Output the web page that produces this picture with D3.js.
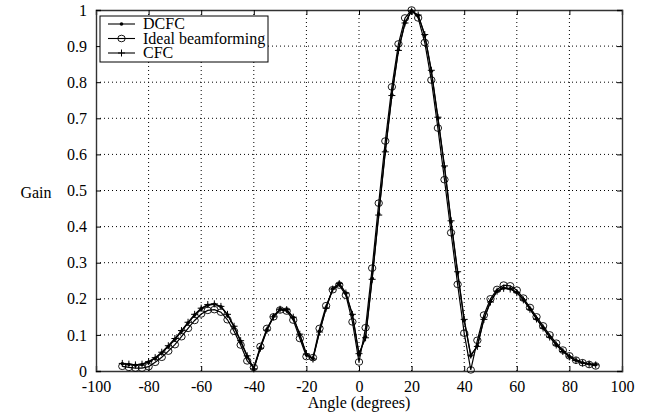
<!DOCTYPE html>
<html>
<head>
<meta charset="utf-8">
<script src="https://cdn.jsdelivr.net/npm/d3@7"></script>
<style>
  body { margin: 0; background: #fff; }
  svg { display: block; font-family: "Liberation Serif", "DejaVu Serif", serif; }
  .grid line { stroke: #000; stroke-width: 1; stroke-dasharray: 1,3; }
  .series { fill: none; stroke: #000; stroke-width: 1.2; }
</style>
</head>
<body>
<svg id="chart" width="656" height="416"></svg>
<script>
// angles sampled every 2.5 degrees, -90 .. 90
var angles = [-90, -87.5, -85, -82.5, -80, -77.5, -75, -72.5, -70, -67.5, -65, -62.5,
  -60, -57.5, -55, -52.5, -50, -47.5, -45, -42.5, -40, -37.5, -35, -32.5,
  -30, -27.5, -25, -22.5, -20, -17.5, -15, -12.5, -10, -7.5, -5, -2.5,
  0, 2.5, 5, 7.5, 10, 12.5, 15, 17.5, 20, 22.5, 25, 27.5,
  30, 32.5, 35, 37.5, 40, 42.5, 45, 47.5, 50, 52.5, 55, 57.5,
  60, 62.5, 65, 67.5, 70, 72.5, 75, 77.5, 80, 82.5, 85, 87.5, 90];

var dcfc = [0.020, 0.018, 0.016, 0.018, 0.025, 0.035, 0.050, 0.068, 0.088, 0.110, 0.133, 0.155,
  0.172, 0.182, 0.185, 0.178, 0.155, 0.122, 0.082, 0.040, 0.005, 0.065, 0.115, 0.152,
  0.172, 0.170, 0.148, 0.100, 0.045, 0.035, 0.110, 0.175, 0.228, 0.243, 0.215, 0.155,
  0.045, 0.095, 0.257, 0.435, 0.610, 0.765, 0.890, 0.965, 0.998, 0.985, 0.930, 0.830,
  0.700, 0.565, 0.413, 0.272, 0.140, 0.042, 0.070, 0.145, 0.193, 0.222, 0.230, 0.228,
  0.218, 0.198, 0.172, 0.145, 0.120, 0.095, 0.073, 0.055, 0.040, 0.030, 0.023, 0.020, 0.018];

var ideal = [0.013, 0.010, 0.008, 0.008, 0.012, 0.024, 0.038, 0.055, 0.073, 0.095, 0.118, 0.140,
  0.158, 0.168, 0.170, 0.163, 0.142, 0.110, 0.072, 0.028, 0.010, 0.068, 0.118, 0.150,
  0.169, 0.166, 0.141, 0.090, 0.040, 0.037, 0.118, 0.181, 0.225, 0.238, 0.210, 0.136,
  0.025, 0.120, 0.285, 0.465, 0.637, 0.787, 0.906, 0.978, 1.000, 0.978, 0.910, 0.806,
  0.673, 0.530, 0.383, 0.240, 0.105, 0.003, 0.085, 0.155, 0.200, 0.226, 0.238, 0.236,
  0.224, 0.202, 0.176, 0.150, 0.125, 0.100, 0.077, 0.058, 0.042, 0.030, 0.023, 0.018, 0.014];

var cfc = [0.021, 0.019, 0.017, 0.019, 0.026, 0.037, 0.052, 0.070, 0.090, 0.112, 0.135, 0.157,
  0.174, 0.184, 0.186, 0.179, 0.157, 0.124, 0.084, 0.042, 0.006, 0.063, 0.113, 0.150,
  0.171, 0.170, 0.149, 0.102, 0.047, 0.033, 0.108, 0.174, 0.227, 0.242, 0.216, 0.157,
  0.048, 0.092, 0.254, 0.432, 0.607, 0.763, 0.888, 0.964, 0.997, 0.986, 0.932, 0.833,
  0.703, 0.568, 0.416, 0.275, 0.143, 0.044, 0.068, 0.143, 0.191, 0.221, 0.229, 0.227,
  0.217, 0.197, 0.171, 0.144, 0.119, 0.094, 0.072, 0.054, 0.039, 0.029, 0.022, 0.019, 0.017];

var xTicks = [-100, -80, -60, -40, -20, 0, 20, 40, 60, 80, 100];
var yTicks = [0, 0.1, 0.2, 0.3, 0.4, 0.5, 0.6, 0.7, 0.8, 0.9, 1];
var legendNames = ["DCFC", "Ideal beamforming", "CFC"];

var margin = {left: 96, right: 34, top: 10, bottom: 45},
    width = 656 - margin.left - margin.right,
    height = 416 - margin.top - margin.bottom;

var svg = d3.select("#chart");
var g = svg.append("g").attr("transform", "translate(" + margin.left + "," + margin.top + ")");

var x = d3.scaleLinear().domain([-100, 100]).range([0, width]);
var y = d3.scaleLinear().domain([0, 1]).range([height, 0]);

// dotted grid
var grid = g.append("g").attr("class", "grid");
grid.selectAll("line.gx").data(xTicks.slice(1, -1)).enter().append("line")
  .attr("x1", function(d) { return x(d); }).attr("x2", function(d) { return x(d); })
  .attr("y1", 0).attr("y2", height);
grid.selectAll("line.gy").data(yTicks.slice(1, -1)).enter().append("line")
  .attr("x1", 0).attr("x2", width)
  .attr("y1", function(d) { return y(d); }).attr("y2", function(d) { return y(d); });

// axes with inward ticks on all four sides
var fmtX = function(d) { return String(d); };  // plain hyphen, like the original
var fmtY = function(d) { return d === 0 ? "0" : d === 1 ? "1" : d3.format(".1f")(d); };
var axB = g.append("g").attr("transform", "translate(0," + height + ")")
  .call(d3.axisBottom(x).tickValues(xTicks).tickSize(-5).tickPadding(10).tickFormat(fmtX));
var axT = g.append("g")
  .call(d3.axisTop(x).tickValues(xTicks).tickSize(-5).tickFormat(""));
var axL = g.append("g")
  .call(d3.axisLeft(y).tickValues(yTicks).tickSize(-5).tickPadding(9).tickFormat(fmtY));
var axR = g.append("g").attr("transform", "translate(" + width + ",0)")
  .call(d3.axisRight(y).tickValues(yTicks).tickSize(-5).tickFormat(""));

[axB, axT, axL, axR].forEach(function(a) {
  a.select(".domain").attr("stroke", "#333").attr("stroke-width", 1.4);
  a.selectAll(".tick line").attr("stroke", "#000");
  a.selectAll("text").attr("font-family", "Liberation Serif").attr("font-size", 16).attr("fill", "#000");
});

var line = d3.line()
  .x(function(d) { return x(d[0]); })
  .y(function(d) { return y(d[1]); });

function pairs(values) {
  return angles.map(function(a, i) { return [a, values[i]]; });
}

var dcfcPts = pairs(dcfc), idealPts = pairs(ideal), cfcPts = pairs(cfc);

g.append("path").datum(idealPts).attr("class", "series").attr("d", line);
g.append("path").datum(cfcPts).attr("class", "series").attr("d", line);
g.append("path").datum(dcfcPts).attr("class", "series").attr("d", line);

function plusPath(cx, cy, s) {
  return "M" + (cx - s) + "," + cy + "H" + (cx + s) + "M" + cx + "," + (cy - s) + "V" + (cy + s);
}

g.selectAll("ellipse.ideal").data(idealPts).enter().append("ellipse")
  .attr("class", "ideal")
  .attr("cx", function(d) { return x(d[0]); })
  .attr("cy", function(d) { return y(d[1]); })
  .attr("rx", 3.7).attr("ry", 3.3)
  .attr("fill", "none").attr("stroke", "#000").attr("stroke-width", 0.9);

g.selectAll("path.cfc").data(cfcPts).enter().append("path")
  .attr("class", "cfc")
  .attr("d", function(d) { return plusPath(x(d[0]), y(d[1]), 3.5); })
  .attr("stroke", "#000").attr("stroke-width", 1);

g.selectAll("circle.dcfc").data(dcfcPts).enter().append("circle")
  .attr("class", "dcfc")
  .attr("cx", function(d) { return x(d[0]); })
  .attr("cy", function(d) { return y(d[1]); })
  .attr("r", 1.8).attr("fill", "#000");

// legend
var leg = g.append("g").attr("transform", "translate(4,6)");
leg.append("rect").attr("width", 168).attr("height", 46)
  .attr("fill", "#fff").attr("stroke", "#000").attr("stroke-width", 1);
legendNames.forEach(function(name, i) {
  var ly = 8 + i * 14.5;
  leg.append("line").attr("x1", 8).attr("x2", 35).attr("y1", ly).attr("y2", ly)
    .attr("stroke", "#000").attr("stroke-width", 1.1);
  if (i === 0) {
    leg.append("circle").attr("cx", 21.5).attr("cy", ly).attr("r", 1.8).attr("fill", "#000");
  } else if (i === 1) {
    leg.append("ellipse").attr("cx", 21.5).attr("cy", ly).attr("rx", 3.7).attr("ry", 3.3)
      .attr("fill", "none").attr("stroke", "#000").attr("stroke-width", 0.9);
  } else {
    leg.append("path").attr("d", plusPath(21.5, ly, 3.5)).attr("stroke", "#000");
  }
  leg.append("text").attr("x", 43).attr("y", ly + 5)
    .attr("font-size", 16).text(name);
});

// axis titles
svg.append("text").attr("x", margin.left + x(0)).attr("y", 408)
  .attr("text-anchor", "middle").attr("font-size", 16).text("Angle (degrees)");
svg.append("text").attr("x", 36).attr("y", 198)
  .attr("text-anchor", "middle").attr("font-size", 16).text("Gain");
</script>
</body>
</html>
